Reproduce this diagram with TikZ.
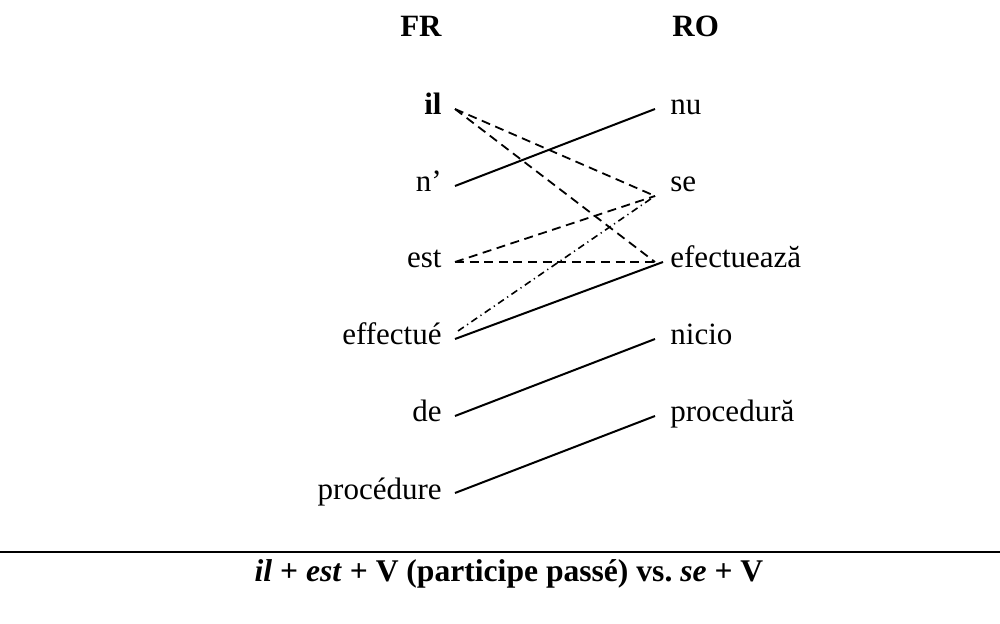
\documentclass[tikz,border=0pt]{standalone}
\usepackage{fontspec}
\setmainfont{Liberation Serif}
\begin{document}
\begin{tikzpicture}[x=0.5pt,y=-0.5pt,
  lab/.style={font=\fontsize{15.5}{18}\selectfont, inner ysep=0pt, text height=6pt, text depth=0pt},
  lft/.style={lab, inner xsep=6.5pt, anchor=base east},
  rgt/.style={lab, inner xsep=7.5pt, anchor=base west},
  hdr/.style={font=\fontsize{15.5}{18}\selectfont\bfseries, inner sep=0pt},
  link/.style={line width=1pt},
  dlink/.style={line width=0.9pt, dash pattern=on 4.5pt off 2.8pt},
  ddlink/.style={line width=0.8pt, dash pattern=on 3.5pt off 2pt on 0.6pt off 2pt}]
\useasboundingbox (0,0) rectangle (1000,624);
% headers
\node[hdr, anchor=base east] (fr) at (442,37) {FR};
\node[hdr, anchor=base west] (ro) at (672,37) {RO};
% French words
\node[lft] (il) at (455,115) {\textbf{il}};
\node[lft] (n)  at (455,192) {n’};
\node[lft] (est) at (455,268) {est};
\node[lft] (eff) at (455,345) {effectué};
\node[lft] (de) at (455,422) {de};
\node[lft] (proc) at (455,499) {procédure};
% Romanian words
\node[rgt] (nu) at (655,115) {nu};
\node[rgt] (se) at (655,192) {se};
\node[rgt] (efc) at (655,268) {efectuează};
\node[rgt] (nicio) at (655,345) {nicio};
\node[rgt] (procr) at (655,422) {procedură};
% connectors
\draw[link] (n.east) -- (nu.west);
\draw[dlink] (il.east) -- ([yshift=-5pt]se.west);
\draw[dlink] (il.east) -- (efc.west);
\draw[dlink] (est.east) -- ([yshift=-5pt]se.west);
\draw[dlink] (est.east) -- (efc.west);
\draw[ddlink] ([shift={(1.5pt,4pt)}]eff.east) -- ([yshift=-5pt]se.west);
\draw[link] (eff.east) -- ([xshift=4pt]efc.west);
\draw[link] (de.east) -- (nicio.west);
\draw[link] (proc.east) -- (procr.west);
% rule and caption
\coordinate (rl) at (0,552);
\coordinate (rr) at (1000,552);
\draw[line width=1pt] (rl) -- (rr);
\node[font=\fontsize{15.8}{19}\selectfont\bfseries, inner sep=0pt, anchor=base] (cap) at (509,581)
  {\textit{il} + \textit{est} + V (participe passé) vs.\ \textit{se} + V};
\end{tikzpicture}
\end{document}
